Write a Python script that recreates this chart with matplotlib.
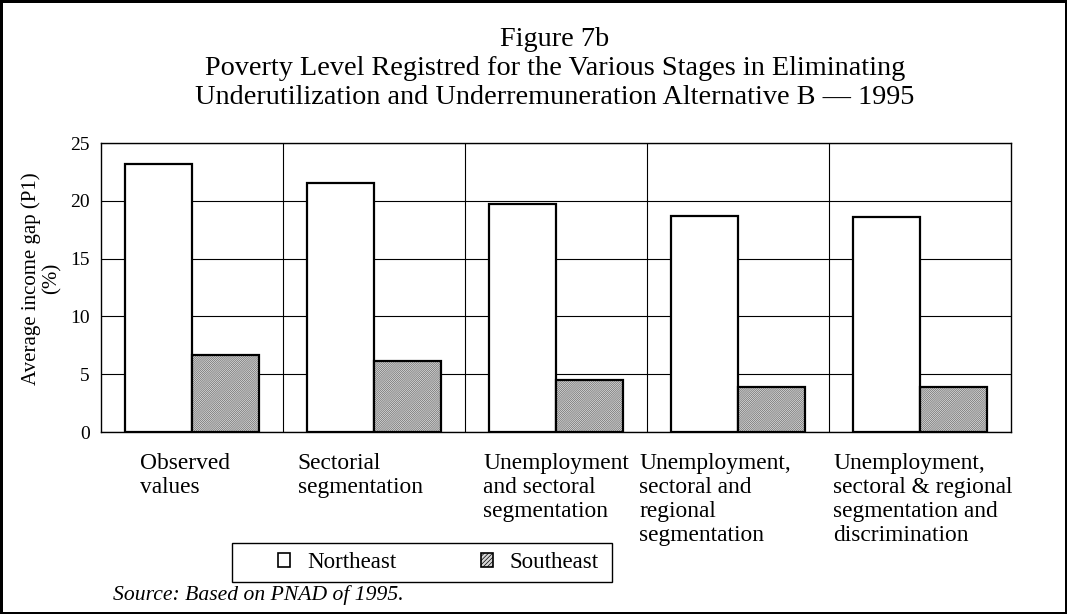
import numpy as np
import matplotlib
matplotlib.use("Agg")
import matplotlib.pyplot as plt
from matplotlib.patches import Patch, Rectangle
from matplotlib.transforms import ScaledTranslation

plt.rcParams["font.family"] = ["Liberation Serif", "DejaVu Serif"]
plt.rcParams["hatch.linewidth"] = 0.5

# Data
categories = [
    "Observed\nvalues",
    "Sectorial\nsegmentation",
    "Unemployment\nand sectoral\nsegmentation",
    "Unemployment,\nsectoral and\nregional\nsegmentation",
    "Unemployment,\nsectoral & regional\nsegmentation and\ndiscrimination",
]
northeast = [23.2, 21.5, 19.7, 18.7, 18.6]
southeast = [6.7, 6.1, 4.5, 3.9, 3.9]
yticks = [0, 5, 10, 15, 20, 25]

title_lines = [
    "Figure 7b",
    "Poverty Level Registred for the Various Stages in Eliminating",
    "Underutilization and Underremuneration Alternative B \u2014 1995",
]

fig = plt.figure(figsize=(10.67, 6.14), dpi=100, linewidth=2.5, edgecolor="black")
ax = fig.add_axes([0.0947, 0.2964, 0.8528, 0.4707])

x = np.arange(len(categories))
w = 0.37

ax.bar(x - w / 2, northeast, w, color="white", edgecolor="black", linewidth=1.6, zorder=3)
# hatched fill first, then a black outline on top
ax.bar(x + w / 2, southeast, w, color="#e2e2e2", edgecolor="#6a6a6a", linewidth=0,
       hatch="/" * 16, zorder=3)
ax.bar(x + w / 2, southeast, w, fill=False, edgecolor="black", linewidth=1.6, zorder=4)

ax.set_xlim(-0.5, len(categories) - 0.5)
ax.set_ylim(0, 25)
ax.set_yticks(yticks)
ax.set_xticks(x)
ax.set_xticklabels(categories, fontsize=16.8, multialignment="left", linespacing=1.2)
ax.set_xticks(x[:-1] + 0.5, minor=True)
ax.tick_params(axis="x", which="both", length=0, pad=15)
ax.tick_params(axis="y", length=0, pad=8, labelsize=14)

# nudge the wrapped category labels sideways (pixels) as in the original
label_shift = [-7, -14, 0, -23, 3]
for lab, dx in zip(ax.get_xticklabels(), label_shift):
    lab.set_transform(lab.get_transform() + ScaledTranslation(dx / 100, 0, fig.dpi_scale_trans))

ax.grid(axis="y", color="black", linewidth=0.8, zorder=0)
ax.grid(axis="x", which="minor", color="black", linewidth=0.8, zorder=0)
ax.grid(axis="x", which="major", visible=False)
for s in ax.spines.values():
    s.set_color("black")
    s.set_linewidth(1.0)

ax.set_ylabel("Average income gap (P1)\n(%)", fontsize=15, linespacing=1.1, labelpad=6)
ax.yaxis.label.set_y(0.53)

for i, line in enumerate(title_lines):
    fig.text(0.52, 1 - (40 + i * 28.5) / 614, line, ha="center", va="center", fontsize=20.3)

handles = [
    Patch(facecolor="white", edgecolor="black", linewidth=1.2),
    Patch(facecolor="#d6d6d6", edgecolor="black", linewidth=1.2, hatch="/" * 8),
]
leg = fig.legend(handles, ["Northeast", "Southeast"], loc="center left",
                 bbox_to_anchor=(278 / 1067, 1 - 562.5 / 614), ncol=2, fontsize=16.5,
                 frameon=False, borderpad=0, borderaxespad=0,
                 handlelength=0.52, handleheight=0.52,
                 handletextpad=0.74, columnspacing=3.7)
# legend box
fig.patches.append(Rectangle((232 / 1067, 1 - 582 / 614), 380 / 1067, 39 / 614,
                             transform=fig.transFigure, fill=False,
                             edgecolor="black", linewidth=1.0))

fig.text(0.106, 1 - 595 / 614, "Source: Based on PNAD of 1995.", fontsize=15.6,
         style="italic", ha="left", va="center")

fig.savefig("out.png", dpi=100)
